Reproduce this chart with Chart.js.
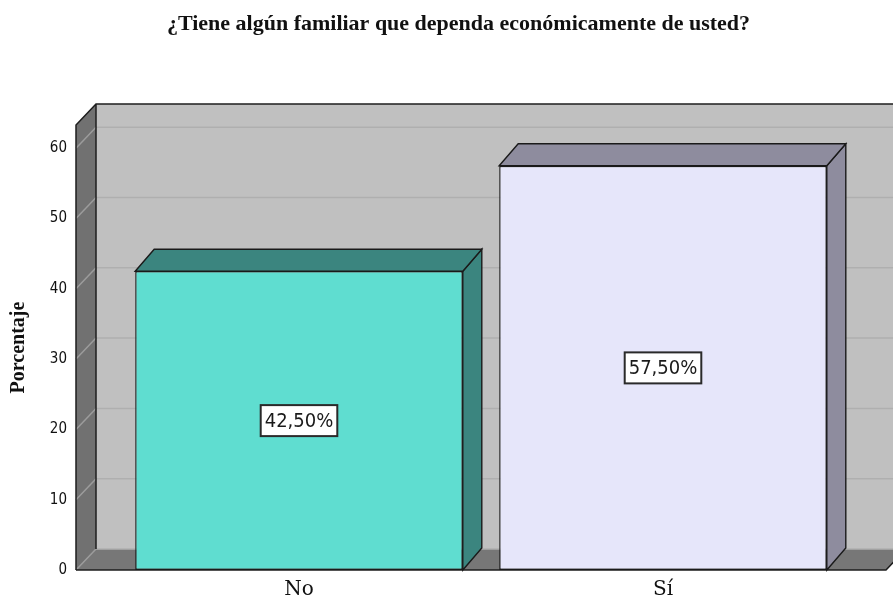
<!DOCTYPE html>
<html>
<head>
<meta charset="utf-8">
<script src="https://cdn.jsdelivr.net/npm/chart.js@4.4.1/dist/chart.umd.min.js"></script>
<style>
  html, body { margin: 0; padding: 0; background: #fff; }
</style>
</head>
<body>
<canvas id="chart" width="893" height="599"></canvas>
<script>
const categories = ["No", "Sí"];
const percentages = [42.5, 57.5];
const tickValues = [0, 10, 20, 30, 40, 50, 60];
const axisMax = 63.3;
const frontColors = ["#5fddd0", "#e6e6fa"];
const shadeColors = ["#3b857f", "#8e8c9e"];
const chartTitle = "¿Tiene algún familiar que dependa económicamente de usted?";
const yTitle = "Porcentaje";

// 3D look: depth offsets for walls and bars
const wallDepth = { dx: 20, dy: -21 };
const barDepth = { dx: 19, dy: -22 };
const wallExtend = 41;

function poly(ctx, pts, fill, stroke, lw) {
    ctx.beginPath();
    ctx.moveTo(pts[0][0], pts[0][1]);
    for (let i = 1; i < pts.length; i++) ctx.lineTo(pts[i][0], pts[i][1]);
    ctx.closePath();
    if (fill) { ctx.fillStyle = fill; ctx.fill(); }
    if (stroke) { ctx.strokeStyle = stroke; ctx.lineWidth = lw || 1; ctx.stroke(); }
}

const box3d = {
    id: "box3d",
    beforeDatasetsDraw(chart) {
        const ctx = chart.ctx;
        const a = chart.chartArea;
        const yScale = chart.scales.y;
        const L = a.left - wallExtend, R = a.right + wallExtend, T = a.top, B = a.bottom;
        const dx = wallDepth.dx, dy = wallDepth.dy;
        ctx.save();
        // back wall
        poly(ctx, [[L + dx, T + dy], [R + dx, T + dy], [R + dx, B + dy], [L + dx, B + dy]], "#c0c0c0");
        // left wall
        poly(ctx, [[L, T], [L + dx, T + dy], [L + dx, B + dy], [L, B]], "#717171");
        // floor
        poly(ctx, [[L, B], [L + dx, B + dy], [R + dx, B + dy], [R, B]], "#777777");
        // grid lines
        ctx.lineWidth = 1.5;
        tickValues.forEach(v => {
            const y = yScale.getPixelForValue(v);
            ctx.strokeStyle = "#afafaf";
            ctx.beginPath();
            ctx.moveTo(L + dx, y + dy);
            ctx.lineTo(R + dx, y + dy);
            ctx.stroke();
            ctx.strokeStyle = "#9c9c9c";
            ctx.beginPath();
            ctx.moveTo(L, y);
            ctx.lineTo(L + dx, y + dy);
            ctx.stroke();
        });
        // edges
        ctx.strokeStyle = "#1e1e1e";
        ctx.lineWidth = 1.5;
        ctx.beginPath();
        ctx.moveTo(L, B);
        ctx.lineTo(L, T);
        ctx.lineTo(L + dx, T + dy);
        ctx.lineTo(R + dx, T + dy);
        ctx.moveTo(L + dx, T + dy);
        ctx.lineTo(L + dx, B + dy);
        ctx.moveTo(L, B);
        ctx.lineTo(R, B);
        ctx.lineTo(R + dx, B + dy);
        ctx.stroke();

        // top and side faces of the bars
        const meta = chart.getDatasetMeta(0);
        meta.data.forEach((el, i) => {
            const p = el.getProps(["x", "y", "base", "width"], true);
            const l = p.x - p.width / 2, r = p.x + p.width / 2;
            const bx = barDepth.dx, by = barDepth.dy;
            poly(ctx, [[r, p.y], [r + bx, p.y + by], [r + bx, p.base + by], [r, p.base]], shadeColors[i], "#1a1a1a", 1.4);
            poly(ctx, [[l, p.y], [l + bx, p.y + by], [r + bx, p.y + by], [r, p.y]], shadeColors[i], "#1a1a1a", 1.4);
        });
        ctx.restore();
    },
    afterDatasetsDraw(chart) {
        const ctx = chart.ctx;
        const meta = chart.getDatasetMeta(0);
        ctx.save();
        ctx.font = "20px 'DejaVu Sans Condensed', 'DejaVu Sans', sans-serif";
        ctx.textAlign = "center";
        ctx.textBaseline = "middle";
        meta.data.forEach((el, i) => {
            const p = el.getProps(["x", "y", "base"], true);
            const txt = percentages[i].toFixed(2).replace(".", ",") + "%";
            const cy = (p.y + p.base) / 2;
            const w = ctx.measureText(txt).width + 8;
            const h = 31;
            ctx.fillStyle = "#ffffff";
            ctx.fillRect(p.x - w / 2, cy - h / 2, w, h);
            ctx.strokeStyle = "#2a2a2a";
            ctx.lineWidth = 2;
            ctx.strokeRect(p.x - w / 2, cy - h / 2, w, h);
            ctx.fillStyle = "#1a1a1a";
            ctx.fillText(txt, p.x, cy + 1);
        });
        ctx.restore();
    }
};

new Chart(document.getElementById("chart"), {
    type: "bar",
    data: {
        labels: categories,
        datasets: [{
            data: percentages,
            backgroundColor: frontColors,
            borderColor: "#1a1a1a",
            borderWidth: 1.4,
            borderSkipped: false,
            barPercentage: 0.9,
            categoryPercentage: 1
        }]
    },
    options: {
        responsive: false,
        animation: false,
        devicePixelRatio: 1,
        layout: { padding: { left: 24, right: 0, top: 0, bottom: 0 } },
        plugins: {
            legend: { display: false },
            tooltip: { enabled: false },
            title: {
                display: true,
                text: chartTitle,
                color: "#111",
                font: { family: "Liberation Serif", size: 22, weight: "bold" },
                padding: { top: 11, bottom: 87.6 }
            }
        },
        scales: {
            x: {
                offset: true,
                grid: { display: false, drawTicks: false },
                border: { display: false },
                afterFit: s => { s.height = 29; },
                ticks: { color: "#111", font: { family: "DejaVu Serif", size: 20 }, padding: 8 }
            },
            y: {
                min: 0,
                max: axisMax,
                grid: { display: false, drawTicks: false },
                border: { display: false },
                afterBuildTicks: s => { s.ticks = tickValues.map(v => ({ value: v })); },
                afterFit: s => { s.width = 93; s.paddingTop = 9; s.paddingBottom = 9; },
                ticks: { color: "#111", font: { family: "DejaVu Sans Condensed", size: 15 }, padding: 50 },
                title: {
                    display: true,
                    text: yTitle,
                    color: "#111",
                    font: { family: "Liberation Serif", size: 20, weight: "bold" },
                    padding: { top: -17.5, bottom: 0 }
                }
            },
            yRight: {
                position: "right",
                grid: { display: false, drawTicks: false },
                border: { display: false },
                ticks: { display: false },
                afterFit: s => { s.width = 48; }
            }
        }
    },
    plugins: [box3d]
});
</script>
</body>
</html>
